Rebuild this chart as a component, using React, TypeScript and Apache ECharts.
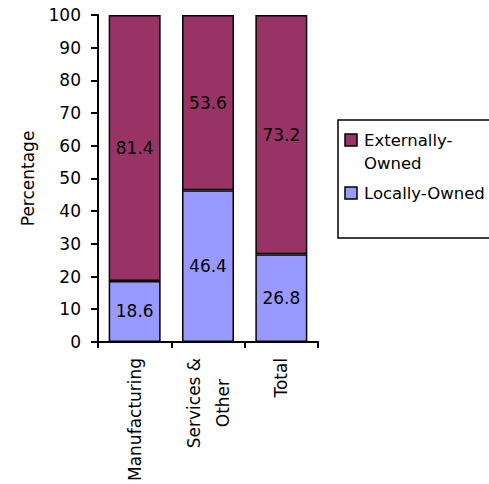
import React, { useEffect, useRef } from "react";
import * as echarts from "echarts";

const categories = ["Manufacturing", "Services &\nOther", "Total"];
const locallyOwned = [18.6, 46.4, 26.8];
const externallyOwned = [81.4, 53.6, 73.2];
const seriesNames = ["Locally-Owned", "Externally-Owned"];
const legendLabels = ["Externally-\nOwned", "Locally-Owned"];
const yAxisName = "Percentage";

const FONT = "DejaVu Sans";
const FS = 17;
const EXT_COLOR = "#993366";
const LOC_COLOR = "#9999FF";

export default function App() {
  const ref = useRef<HTMLDivElement>(null);
  useEffect(() => {
    document.documentElement.style.overflow = "hidden";
    document.body.style.overflow = "hidden";
    document.body.style.margin = "0";
    if (!ref.current) return;
    const chart = echarts.init(ref.current, undefined, { renderer: "svg" });
    const labelStyle = {
      show: true,
      position: "inside",
      color: "#000",
      fontFamily: FONT,
      fontSize: FS,
      formatter: (p: any) => p.value.toFixed(1),
    };
    chart.setOption({
      animation: false,
      backgroundColor: "#fff",
      textStyle: { fontFamily: FONT },
      grid: { left: 98, top: 15, width: 220, height: 330, containLabel: false },
      xAxis: {
        type: "category",
        data: categories,
        axisLine: { show: true, lineStyle: { color: "#000", width: 2 } },
        axisTick: { show: true, alignWithLabel: false, length: 6, lineStyle: { color: "#000", width: 2 } },
        axisLabel: {
          rotate: 90,
          margin: 16,
          color: "#000",
          fontFamily: FONT,
          fontSize: FS,
          interval: 0,
          formatter: (v: string) => v.split("\n").map((l) => `{c|${l}}`).join("\n"),
          rich: { c: { align: "center", fontFamily: FONT, fontSize: FS, color: "#000", lineHeight: 29 } },
        },
        splitLine: { show: false },
      },
      yAxis: {
        type: "value",
        min: 0,
        max: 100,
        interval: 10,
        name: yAxisName,
        nameLocation: "middle",
        nameGap: 62,
        nameRotate: 90,
        nameTextStyle: { color: "#000", fontFamily: FONT, fontSize: FS },
        axisLine: { show: true, lineStyle: { color: "#000", width: 2 } },
        axisTick: { show: true, length: 7, lineStyle: { color: "#000", width: 2 } },
        axisLabel: { color: "#000", fontFamily: FONT, fontSize: FS, margin: 17 },
        splitLine: { show: false },
      },
      series: [
        {
          name: seriesNames[0],
          type: "bar",
          stack: "total",
          barWidth: 52,
          data: locallyOwned,
          itemStyle: { color: LOC_COLOR, borderColor: "#000", borderWidth: 1.5 },
          label: labelStyle,
        },
        {
          name: seriesNames[1],
          type: "bar",
          stack: "total",
          barWidth: 52,
          data: externallyOwned,
          itemStyle: { color: EXT_COLOR, borderColor: "#000", borderWidth: 1.5 },
          label: labelStyle,
        },
      ],
      graphic: [
        {
          type: "rect",
          shape: { x: 338, y: 120, width: 170, height: 118 },
          style: { fill: "#fff", stroke: "#000", lineWidth: 1.5 },
        },
        {
          type: "rect",
          shape: { x: 345, y: 134, width: 12, height: 12 },
          style: { fill: EXT_COLOR, stroke: "#000", lineWidth: 1.5 },
        },
        {
          type: "text",
          x: 364,
          y: 128.5,
          style: {
            text: legendLabels[0],
            fill: "#000",
            font: `16.5px "${FONT}"`,
            lineHeight: 23,
            verticalAlign: "top",
          },
        },
        {
          type: "rect",
          shape: { x: 345, y: 187, width: 12, height: 12 },
          style: { fill: LOC_COLOR, stroke: "#000", lineWidth: 1.5 },
        },
        {
          type: "text",
          x: 364,
          y: 181.5,
          style: {
            text: legendLabels[1],
            fill: "#000",
            font: `16.5px "${FONT}"`,
            lineHeight: 23,
            verticalAlign: "top",
          },
        },
      ],
    });
    return () => chart.dispose();
  }, []);
  return (
    <div
      ref={ref}
      style={{ position: "fixed", left: 0, top: 0, width: 489, height: 484, overflow: "hidden" }}
    />
  );
}
